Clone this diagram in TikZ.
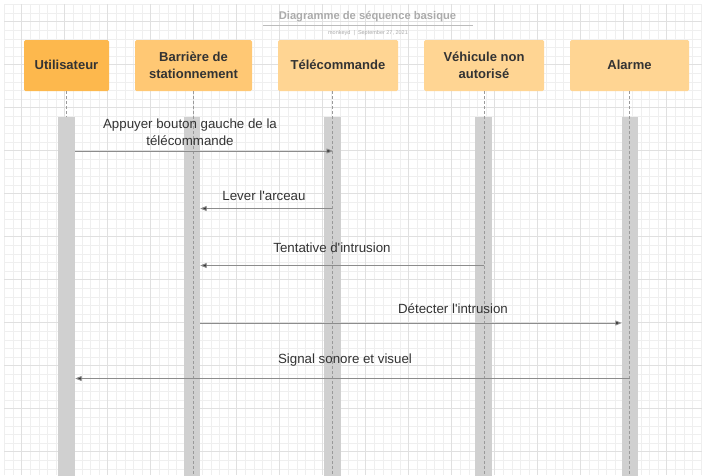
\documentclass[tikz,border=0pt]{standalone}
\usepackage{fontspec}
\setmainfont{Liberation Sans}[Ligatures=TeXOff]
\usetikzlibrary{arrows.meta}
\definecolor{gminor}{HTML}{EFEFEF}
\definecolor{gmajor}{HTML}{E0E0E0}
\definecolor{boxA}{HTML}{FDB84D}
\definecolor{boxB}{HTML}{FFC874}
\definecolor{boxC}{HTML}{FFD593}
\definecolor{txt}{HTML}{333333}
\definecolor{barc}{HTML}{D0D0D0}
\definecolor{lifec}{HTML}{9A9A9A}
\definecolor{msgc}{HTML}{8C8C8C}
\definecolor{titlec}{HTML}{ABABAB}
\tikzset{
  actor/.style={draw=none, rounded corners=1.5pt, minimum height=51pt, align=center, text=txt,
    font=\fontsize{13}{17}\selectfont\bfseries, inner sep=2pt, text depth=1.5pt},
  actbar/.style={draw=none, fill=barc, minimum height=362pt, inner sep=0pt, anchor=north},
  lifeline/.style={draw=lifec, dash pattern=on 3pt off 2pt, line width=0.8pt},
  msg/.style={draw=msgc, line width=0.9pt, -{Triangle[length=6.5pt,width=5pt,fill=txt]}},
  msglabel/.style={text=txt, font=\fontsize{13.3}{17}\selectfont, align=center, inner sep=0pt}
}
\begin{document}
\begin{tikzpicture}[x=1pt,y=-1pt]
\useasboundingbox (0,0) rectangle (706,475);
\fill[white] (0,0) rectangle (706,475);
% grid
\begin{scope}
\clip (4,4) rectangle (702,475);
\foreach \i in {0,...,81} {\draw[gminor, line width=0.6pt] ({4.5+\i*8.6},4) -- ({4.5+\i*8.6},475);}
\foreach \i in {0,...,55} {\draw[gminor, line width=0.6pt] (4,{4.5+\i*8.6}) -- (702,{4.5+\i*8.6});}
\foreach \i in {0,...,16} {\draw[gmajor, line width=0.8pt] ({21.7+\i*43},4) -- ({21.7+\i*43},475);}
\foreach \i in {0,...,10} {\draw[gmajor, line width=0.8pt] (4,{21.7+\i*43}) -- (702,{21.7+\i*43});}
\end{scope}
% title
\node[text=titlec, font=\fontsize{11.2}{13}\selectfont\bfseries, inner sep=0pt] (title) at (367.5,17) {Diagramme de séquence basique};
\coordinate (ulA) at (263,25.5);
\coordinate (ulB) at (473,25.5);
\draw[titlec!80, line width=1.3pt] (ulA) -- (ulB);
\node[text=titlec, font=\fontsize{5.5}{6}\selectfont, inner sep=0pt] (sub) at (368,33) {monkeyd \ | \ September 27, 2021};
% actors
\node[actor, fill=boxA, minimum width=85pt] (u) at (66.5,65.5) {Utilisateur};
\node[actor, fill=boxB, minimum width=117pt] (b) at (193.5,65.5) {Barrière de\\stationnement};
\node[actor, fill=boxC, minimum width=120pt] (t) at (338,65.5) {Télécommande};
\node[actor, fill=boxC, minimum width=120pt] (v) at (484,65.5) {Véhicule non\\autorisé};
\node[actor, fill=boxC, minimum width=119pt] (a) at (629.5,65.5) {Alarme};
% activation bars
\node[actbar, minimum width=17pt] (ub) at (66.5,117) {};
\node[actbar, minimum width=16pt] (bb) at (192,117) {};
\node[actbar, minimum width=17pt] (tb) at (332.5,117) {};
\node[actbar, minimum width=17pt] (vb) at (483.5,117) {};
\node[actbar, minimum width=16pt] (ab) at (630,117) {};
% lifelines
\coordinate (uL) at (66.5,91);  \coordinate (uE) at (66.5,117);
\coordinate (bL) at (193.5,91); \coordinate (bE) at (193.5,475);
\coordinate (tL) at (332,91);   \coordinate (tE) at (332,475);
\coordinate (vL) at (484,91);   \coordinate (vE) at (484,475);
\coordinate (aL) at (629.5,91); \coordinate (aE) at (629.5,475);
\draw[lifeline] (uL) -- (uE);
\draw[lifeline] (bL) -- (bE);
\draw[lifeline] (tL) -- (tE);
\draw[lifeline] (vL) -- (vE);
\draw[lifeline] (aL) -- (aE);
% messages
\coordinate (m1s) at (ub.east |- 0,151); \coordinate (m1e) at (333,151);
\draw[msg] (m1s) -- (m1e);
\node[msglabel] (l1) at (190,132.5) {Appuyer bouton gauche de la\\télécommande};
\coordinate (m2s) at (332,208.5); \coordinate (m2e) at (bb.east |- 0,208.5);
\draw[msg] (m2s) -- (m2e);
\node[msglabel] (l2) at (264,196) {Lever l'arceau};
\coordinate (m3s) at (484,265.5); \coordinate (m3e) at (bb.east |- 0,265.5);
\draw[msg] (m3s) -- (m3e);
\node[msglabel] (l3) at (332,248) {Tentative d'intrusion};
\coordinate (m4s) at (bb.east |- 0,323); \coordinate (m4e) at (ab.west |- 0,323);
\draw[msg] (m4s) -- (m4e);
\node[msglabel] (l4) at (453,309) {Détecter l'intrusion};
\coordinate (m5s) at (629.5,378.5); \coordinate (m5e) at (ub.east |- 0,378.5);
\draw[msg] (m5s) -- (m5e);
\node[msglabel] (l5) at (345,360) {Signal sonore et visuel};
\end{tikzpicture}
\end{document}
